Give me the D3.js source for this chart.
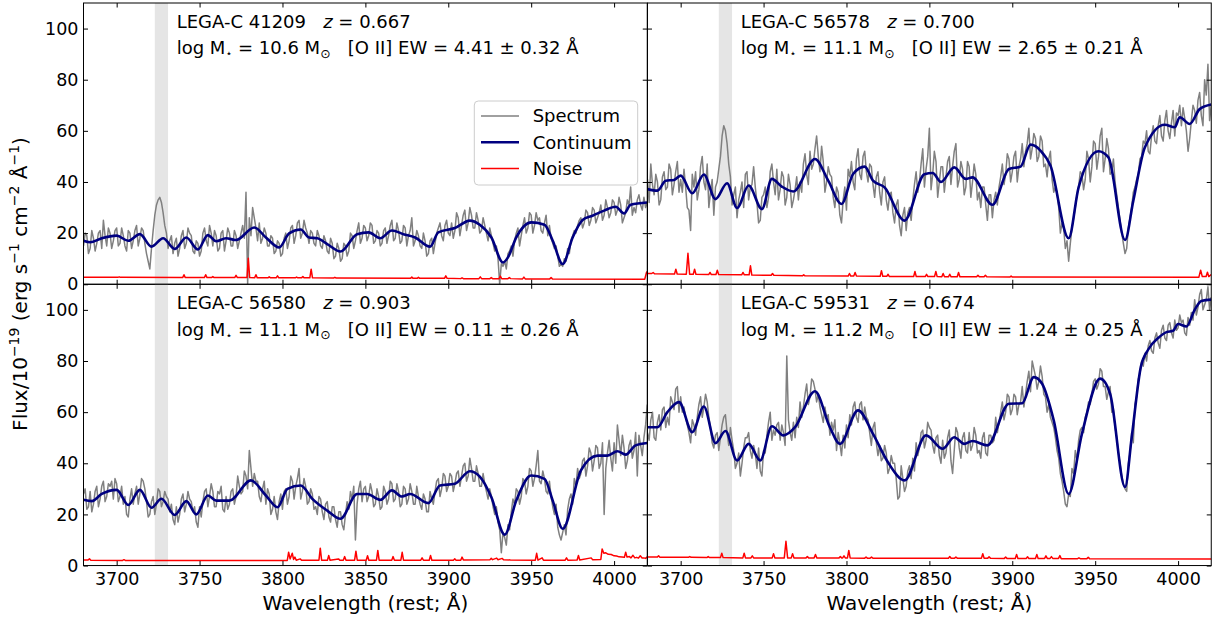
<!DOCTYPE html>
<html><head><meta charset="utf-8">
<script src="https://cdn.jsdelivr.net/npm/d3@7"></script>
<style>body{margin:0;background:#fff} svg text{font-family:"DejaVu Sans",sans-serif}</style>
</head><body><svg id="c" width="1220" height="619"></svg>
<script>
// ---------- data ----------
const waveStart = 3680, waveStep = 1;
const xTicks = [3700, 3750, 3800, 3850, 3900, 3950, 4000];
const yTicks = [0, 20, 40, 60, 80, 100];
const objIds = ["41209", "56578", "56580", "59531"];
const redshifts = ["0.667", "0.700", "0.903", "0.674"];
const logMass = ["10.6", "11.1", "11.1", "11.2"];
const oiiEW = ["4.41 ± 0.32", "2.65 ± 0.21", "0.11 ± 0.26", "1.24 ± 0.25"];
const oiiBand = [3723, 3731];

const spec41209 = [
15,20,19,12,14,21,18,13,16,20,21,14,25,19,15,22,20,14,17,21,
22,15,16,22,19,15,13,21,20,14,17,21,23,15,18,22,21,16,12,9,
6,14,21,27,31,33,34,32,28,23,20,14,17,19,12,16,18,11,14,19,
21,14,16,22,20,19,13,12,17,16,11,13,20,22,17,15,23,20,15,21,
19,13,14,20,21,13,17,22,20,15,15,21,19,14,17,20,23,18,36,0,
26,19,30,26,22,17,24,16,18,22,20,15,15,19,18,12,13,17,16,11,
12,18,20,14,17,22,23,16,19,24,25,18,20,25,22,20,16,21,20,16,
15,21,19,15,14,19,17,13,12,18,16,10,11,16,14,9,10,16,15,11,
13,20,19,14,17,21,24,16,18,23,22,17,19,24,23,16,17,21,20,15,
16,21,22,16,19,23,25,17,18,24,21,16,17,23,22,15,19,21,26,15,
17,21,19,15,14,20,17,11,12,17,18,12,16,20,22,24,19,17,23,25,
20,19,24,18,21,28,26,19,23,27,29,21,24,30,27,22,22,28,25,20,
21,26,23,20,17,22,19,16,13,15,10,0,8,7,9,6,12,13,15,11,
17,20,22,15,19,23,26,20,22,28,27,20,23,28,25,26,21,20,24,27,
19,23,18,16,14,15,11,7,8,7,10,9,14,12,17,19,21,20,23,25,
26,22,24,29,28,23,25,30,29,24,26,28,31,25,27,33,30,26,28,33,
32,27,29,34,31,24,26,28,33,31,38,27,30,28,33,35,31,29,34,30,
32];
const spec56578 = [
41,32,47,39,35,43,40,31,33,42,44,37,38,47,45,35,39,44,48,36,
41,36,45,38,30,29,21,43,38,44,33,37,46,50,40,37,47,30,36,41,
27,38,40,45,50,58,62,60,55,47,42,31,35,38,26,33,36,40,30,43,
44,33,38,39,46,38,32,24,25,34,35,38,30,34,44,47,40,35,45,33,
37,44,42,31,34,43,39,30,33,37,42,33,40,36,47,51,43,39,52,45,
47,53,58,50,44,54,48,36,40,46,43,42,34,30,38,36,27,24,33,38,
29,45,42,48,40,37,49,53,43,41,50,52,44,40,47,46,39,34,42,44,
36,31,40,42,33,29,35,36,28,24,31,33,23,19,27,30,21,28,30,25,
33,39,44,36,40,47,53,38,45,50,61,37,43,52,48,34,40,46,46,36,
42,48,50,39,46,52,55,38,41,48,45,35,38,48,46,34,40,47,43,33,
36,30,38,38,31,25,35,35,26,33,36,31,38,42,47,39,43,51,49,40,
44,50,52,40,46,49,55,46,52,55,61,49,53,59,57,48,50,58,56,46,
47,42,49,52,41,36,38,36,30,20,24,22,14,17,9,16,22,26,30,35,
38,44,43,37,41,52,49,40,46,56,55,45,50,58,61,44,49,57,53,43,
44,49,40,35,30,25,20,16,12,14,22,26,30,36,38,41,43,49,50,56,
55,60,52,51,58,62,56,55,62,66,58,56,64,68,60,57,63,68,58,67,
66,70,62,69,65,60,52,57,64,70,68,63,72,75,66,62,80,74,86,64,
70];
const spec56580 = [
28,30,22,23,29,21,24,29,31,23,26,31,33,25,27,32,31,33,26,34,
32,25,27,31,24,27,20,19,26,30,24,28,31,24,28,34,33,30,25,19,
20,25,27,20,24,30,29,23,25,29,27,26,21,24,18,16,23,17,20,26,
28,21,24,29,26,25,21,23,17,15,23,19,25,29,30,23,27,32,29,23,
23,29,28,31,22,21,27,22,24,29,30,24,27,35,31,28,29,37,35,30,
45,38,31,36,33,33,27,25,30,33,24,30,28,20,22,27,21,18,25,28,
22,29,30,24,27,35,33,26,31,34,38,26,29,34,31,24,25,30,28,22,
23,20,27,26,21,18,24,25,19,17,23,23,18,15,21,21,16,14,20,25,
22,29,26,31,10,24,30,33,25,30,31,25,27,32,29,23,24,30,27,22,
23,31,29,24,26,33,32,25,26,32,29,23,24,31,30,24,26,32,29,24,
24,31,27,24,22,28,26,21,21,29,26,24,29,33,34,27,30,36,35,29,
31,36,35,29,32,36,37,31,35,39,40,33,35,42,38,33,33,39,36,31,
31,36,32,29,26,30,27,23,20,23,17,14,5,13,11,8,16,14,21,26,
24,30,29,24,27,34,33,28,31,38,37,31,34,39,45,33,32,37,34,29,
28,33,27,23,20,24,15,12,10,13,16,12,22,26,28,24,34,31,38,34,
36,41,42,35,39,46,44,37,41,47,46,38,40,48,20,38,44,49,42,37,
48,40,55,49,43,51,46,38,41,47,49,42,45,52,35,51,47,43,50,55,
63];
const spec59531 = [
52,49,57,60,50,49,56,59,53,61,62,54,58,55,66,64,61,69,70,60,
66,60,62,58,55,52,48,57,55,51,58,63,66,58,62,67,64,58,54,48,
46,51,52,45,50,55,58,59,52,47,54,49,45,38,40,44,35,40,46,50,
50,52,45,42,47,44,38,46,37,35,45,44,51,56,60,49,53,51,55,56,
49,55,52,47,82,57,52,49,56,50,58,54,64,58,62,67,71,63,66,73,
72,69,64,67,62,59,56,62,58,59,51,56,53,57,45,52,48,43,51,46,
55,50,59,55,62,64,58,56,63,64,57,62,58,57,52,47,54,56,48,43,
47,41,42,47,44,36,38,43,40,40,34,26,27,39,34,29,31,37,39,34,
42,37,48,43,46,52,53,46,49,56,54,53,47,44,50,51,43,40,49,42,
44,50,53,41,36,45,54,52,46,42,50,52,45,44,52,45,47,54,51,44,
45,42,50,52,44,43,51,51,48,49,58,52,56,60,64,57,60,67,66,59,
61,67,66,59,63,64,70,62,67,72,76,68,80,77,74,69,72,78,74,67,
66,60,63,58,56,54,50,45,42,36,33,29,24,23,28,27,38,36,45,41,
49,53,54,52,58,60,64,63,67,72,73,69,71,77,76,70,70,65,68,70,
60,61,54,50,44,40,35,32,30,29,40,44,52,48,63,66,73,75,80,78,
83,80,86,88,84,83,89,91,87,85,92,94,89,88,94,95,91,89,96,92,
93,98,95,96,91,90,97,94,99,96,104,98,101,106,108,100,102,104,109,100,
105];

const cont41209 = [[3680,17.0],[3684,16.4],[3691,18.0],[3700,19.0],[3707,17.0],[3714,19.6],[3721,14.7],[3728,18.0],[3735,13.8],[3742,18.3],[3749,13.6],[3755,19.2],[3760,16.8],[3766,18.0],[3772,17.3],[3783,22.2],[3790,18.3],[3798,14.4],[3804,19.9],[3811,21.4],[3816,18.3],[3821,18.0],[3827,15.7],[3835,12.8],[3845,19.6],[3852,20.3],[3859,18.0],[3866,21.0],[3873,19.6],[3880,18.3],[3889,14.7],[3894,20.3],[3904,22.0],[3913,24.9],[3919,23.3],[3926,18.3],[3933,8.5],[3936,10.5],[3941,18.3],[3950,24.2],[3958,23.3],[3963,17.0],[3969,7.9],[3975,18.3],[3981,25.1],[3987,26.8],[3994,28.8],[4001,30.3],[4006,27.7],[4010,31.1],[4020,32.0]];
const cont56578 = [[3680,37.2],[3686,36.6],[3691,40.5],[3696,40.8],[3700,42.5],[3707,35.6],[3714,42.9],[3721,33.3],[3728,39.5],[3734,29.8],[3741,38.6],[3749,29.4],[3755,41.2],[3761,38.2],[3768,36.3],[3781,49.0],[3789,40.5],[3797,31.4],[3804,43.1],[3811,46.0],[3816,40.5],[3823,37.9],[3835,24.9],[3847,43.0],[3852,43.5],[3857,40.0],[3865,45.7],[3872,41.2],[3876,41.8],[3888,31.1],[3898,45.1],[3905,46.0],[3911,54.6],[3917,52.3],[3923,46.4],[3934,18.0],[3940,37.9],[3952,52.0],[3958,49.6],[3968,17.3],[3973,32.7],[3980,53.6],[3992,62.4],[3998,61.4],[4001,65.3],[4007,62.7],[4013,68.5],[4020,70.3]];
const cont56580 = [[3680,25.7],[3685,25.2],[3691,28.0],[3700,29.6],[3707,23.7],[3714,29.6],[3721,22.6],[3727,26.1],[3735,19.8],[3742,25.2],[3748,20.0],[3755,27.4],[3760,25.4],[3768,25.4],[3781,33.3],[3790,27.4],[3797,22.8],[3803,30.0],[3811,31.3],[3818,26.1],[3827,21.5],[3835,18.3],[3845,28.0],[3851,28.0],[3859,25.7],[3866,29.4],[3872,27.0],[3877,28.0],[3888,24.4],[3895,31.3],[3904,32.0],[3913,36.9],[3919,34.8],[3926,26.7],[3934,12.1],[3941,25.4],[3950,35.2],[3958,33.9],[3963,25.4],[3969,14.4],[3980,37.2],[3990,43.0],[3996,43.0],[4002,44.7],[4007,43.4],[4013,47.0],[4020,47.9]];
const cont59531 = [[3680,54.1],[3686,54.1],[3692,60.0],[3699,63.9],[3707,52.2],[3714,62.2],[3721,47.9],[3727,52.6],[3734,41.1],[3741,47.6],[3748,41.1],[3755,54.5],[3762,50.9],[3769,54.1],[3781,68.2],[3790,54.1],[3796,47.6],[3807,60.7],[3816,51.5],[3825,40.4],[3835,33.3],[3848,50.9],[3858,45.7],[3865,50.2],[3871,47.6],[3876,48.7],[3885,47.0],[3898,63.3],[3906,63.5],[3913,73.7],[3918,71.1],[3925,56.8],[3934,28.0],[3942,51.5],[3953,73.1],[3959,67.2],[3968,30.7],[3972,50.0],[3977.5,77.6],[3982,84.5],[3988,89.0],[3993,91.3],[3997,91.8],[4000,94.5],[4005,93.5],[4010,100.0],[4014,103.5],[4020,104.0]];

const noise41209 = [[3680,2.7],[3700.7,2.7],[3701.5,2.9],[3702.3,2.7],[3739.8,2.6],[3740.6,3.7],[3741.4,2.6],[3752.9,2.6],[3753.7,3.7],[3754.5,2.6],[3757.2,2.6],[3758,3.0],[3758.8,2.6],[3771.2,2.6],[3772,3.5],[3772.8,2.6],[3778.6,2.6],[3779.4,10.2],[3780.2,2.6],[3783.2,2.5],[3784,3.7],[3784.8,2.5],[3791.2,2.5],[3792,2.9],[3792.8,2.5],[3796.2,2.5],[3797,3.3],[3797.8,2.5],[3807.7,2.5],[3808.5,2.8],[3809.3,2.5],[3811.5,2.5],[3812.3,3.0],[3813.1,2.5],[3816.5,2.5],[3817.3,5.9],[3818.1,2.5],[3830.8,2.4],[3831.6,2.7],[3832.4,2.4],[3877.2,2.3],[3878,2.8],[3878.8,2.3],[3881.2,2.3],[3882,2.7],[3882.8,2.3],[3897.7,2.3],[3898.5,3.3],[3899.3,2.3],[3907.5,2.2],[3908.3,2.5],[3909.1,2.2],[3918.5,2.2],[3919.3,2.9],[3920.1,2.2],[3925.1,2.2],[3925.9,2.6],[3926.7,2.2],[3930.6,2.2],[3931.4,3.2],[3932.2,2.2],[3936,2.2],[3936.8,2.6],[3937.6,2.2],[3944.8,2.1],[3945.6,2.8],[3946.4,2.1],[3961.2,2.1],[3962,2.6],[3962.8,2.1],[4018.5,2.0],[4019.5,4.5],[4020,5.0]];
const noise56578 = [[3680,4.2],[3682.6,4.2],[3683.4,4.6],[3684.2,4.1],[3696.3,4.0],[3697.1,5.9],[3697.9,4.0],[3703.4,3.9],[3704.4,12.1],[3705.4,3.9],[3707.6,3.9],[3708.4,5.9],[3709.2,3.9],[3716.9,3.8],[3717.7,4.6],[3718.5,3.8],[3721.3,3.8],[3722.1,5.5],[3722.9,3.8],[3736.8,3.7],[3737.6,4.6],[3738.4,3.7],[3741.3,3.7],[3742.1,7.2],[3742.9,3.6],[3754.6,3.5],[3755.4,4.2],[3756.2,3.5],[3773.4,3.3],[3774.2,3.7],[3775,3.3],[3801,3.2],[3801.8,4.2],[3802.6,3.2],[3804.4,3.2],[3805.2,4.6],[3806,3.2],[3820.3,3.1],[3821.1,5.3],[3821.9,3.1],[3824.3,3.1],[3825.1,3.9],[3825.9,3.0],[3840.5,3.0],[3841.3,5.0],[3842.1,3.0],[3847.5,3.0],[3848.3,3.9],[3849.1,3.0],[3853.1,3.0],[3853.9,5.0],[3854.7,3.0],[3857.5,2.9],[3858.3,4.2],[3859.1,2.9],[3861.5,2.9],[3862.3,3.9],[3863.1,2.9],[3866.8,2.9],[3867.6,4.6],[3868.4,2.9],[3878.5,2.9],[3879.3,3.5],[3880.1,2.9],[3883,2.9],[3883.8,3.5],[3884.6,2.9],[3898.5,2.8],[3899.3,3.2],[3900.1,2.8],[4012.5,2.7],[4013.6,5.5],[4014.6,3.0],[4016.9,3.0],[4017.7,4.7],[4018.5,3.0],[4020,3.8]];
const noise56580 = [[3680,2.2],[3682.8,2.2],[3683.6,2.6],[3684.4,2.1],[3703.6,2.0],[3704.4,2.3],[3705.2,2.0],[3802.9,2.0],[3803.7,5.2],[3804.6,2.6],[3805.9,4.8],[3806.7,2.4],[3807.5,3.3],[3808.3,2.1],[3810.7,2.6],[3811.5,2.1],[3822,2.1],[3822.8,6.8],[3823.6,2.1],[3827.1,2.1],[3827.9,3.9],[3828.7,2.1],[3833.8,2.6],[3834.6,2.1],[3836.7,2.1],[3837.5,3.5],[3838.3,2.1],[3843.5,2.1],[3844.3,5.6],[3845.1,2.1],[3850.5,2.1],[3851.3,3.8],[3852.1,2.1],[3856.7,2.1],[3857.5,5.9],[3858.3,2.1],[3865.9,2.1],[3866.7,3.5],[3867.5,2.1],[3871.4,2.1],[3872.2,5.2],[3873,2.1],[3883.4,2.1],[3884.2,3.0],[3885,2.1],[3888.5,2.1],[3889.3,3.9],[3890.1,2.1],[3903.1,2.1],[3903.9,2.6],[3904.7,2.1],[3907.5,2.1],[3908.3,3.3],[3909.1,2.2],[3925.1,2.3],[3925.9,2.8],[3926.7,2.3],[3929.2,2.9],[3930,2.3],[3932.5,2.8],[3933.3,2.3],[3937.5,2.2],[3952.5,2.1],[3953.3,4.8],[3954.1,2.1],[3956.6,3.0],[3957.4,2.1],[3970.5,2.1],[3971.3,3.0],[3972.1,2.1],[3977.7,2.2],[3978.5,3.9],[3979.3,2.2],[3986.2,3.0],[3987,2.3],[3992,2.4],[3992.8,6.5],[3993.8,4.8],[3995,5.0],[3996.5,4.4],[3998.3,4.3],[4000,3.8],[4001.5,3.7],[4003,3.4],[4004.8,3.3],[4006.2,3.2],[4007,5.2],[4007.8,3.3],[4009.2,3.5],[4010.2,3.0],[4011.4,4.0],[4012.5,3.0],[4013.6,3.2],[4014.7,2.9],[4015.8,3.8],[4016.9,3.0],[4018,3.0],[4019,2.8],[4020,3.4]];
const noise59531 = [[3680,3.3],[3685.9,3.3],[3686.7,3.8],[3687.5,3.2],[3704.7,3.2],[3705.5,3.5],[3706.3,3.2],[3715.8,3.1],[3716.6,3.5],[3717.4,3.1],[3724,3.1],[3724.8,4.8],[3725.6,3.1],[3737.5,3.0],[3738.3,4.8],[3739.1,3.0],[3742.4,3.0],[3743.2,3.8],[3744,3.0],[3755.2,3.0],[3756,4.6],[3756.8,3.0],[3762.5,3.0],[3763.5,9.5],[3764.5,3.0],[3766.7,3.0],[3767.5,4.6],[3768.3,3.0],[3775.6,3.0],[3776.4,3.5],[3777.2,3.0],[3780.5,3.0],[3781.3,4.3],[3782.1,3.0],[3795.5,3.0],[3796.3,3.5],[3797.1,3.0],[3797.7,3.0],[3798.5,3.8],[3799.3,3.0],[3800.6,3.0],[3801.4,5.9],[3802.2,3.0],[3811,2.9],[3811.8,3.3],[3812.6,2.9],[3814.3,2.9],[3815.1,3.3],[3815.9,2.9],[3861.5,2.9],[3862.3,3.5],[3863.1,2.9],[3865.2,2.9],[3866,3.3],[3866.8,2.9],[3881.4,2.9],[3882.2,4.6],[3883,2.9],[3885.2,2.9],[3886,3.4],[3886.8,2.9],[3895.2,2.8],[3896,3.3],[3896.8,2.8],[3901.8,2.8],[3902.6,4.3],[3903.4,2.8],[3908.4,2.8],[3909.2,3.4],[3910,2.8],[3914,2.8],[3914.8,4.3],[3915.6,2.8],[3919.5,2.8],[3920.3,3.8],[3921.1,2.8],[3922.8,2.8],[3923.6,3.5],[3924.4,2.8],[3927.9,2.8],[3928.7,3.9],[3929.5,2.7],[3939.4,2.7],[3940.2,3.0],[3941,2.7],[3945,2.7],[3945.8,3.2],[3946.6,2.7],[4020,2.6]];

const legendLabels = ["Spectrum", "Continuum", "Noise"];

// ---------- drawing ----------
const svg = d3.select("#c");
const FONT = "DejaVu Sans";
const TICKFONT = 17.5;
const PL = [83.5, 647.5], PT = [3, 284.3], PW = 563.75, PH = 281.25;
const xDomain = [3680, 4020], yDomain = [0, 110];
const colors = {spec: "#808080", cont: "#000080", noise: "#ff0000", band: "#e5e5e5"};
const specs = [spec41209, spec56578, spec56580, spec59531];
const conts = [cont41209, cont56578, cont56580, cont59531];
const noises = [noise41209, noise56578, noise56580, noise59531];

function styleAxis(g, size) {
  g.select(".domain").remove();
  g.attr("font-family", FONT).attr("font-size", size);
  g.selectAll(".tick line").attr("stroke", "#000").attr("stroke-width", 1);
  g.selectAll(".tick text").attr("fill", "#000");
}

specs.forEach((spec, i) => {
  const col = i % 2, row = Math.floor(i / 2);
  const x0 = PL[col], y0 = PT[row];
  const x = d3.scaleLinear().domain(xDomain).range([x0, x0 + PW]);
  const y = d3.scaleLinear().domain(yDomain).range([y0 + PH, y0]);
  const g = svg.append("g");

  svg.append("clipPath").attr("id", "clip" + i).append("rect")
    .attr("x", x0).attr("y", y0).attr("width", PW).attr("height", PH);
  const plot = g.append("g").attr("clip-path", `url(#clip${i})`);

  plot.append("rect").attr("x", x(oiiBand[0])).attr("y", y0)
    .attr("width", x(oiiBand[1]) - x(oiiBand[0])).attr("height", PH)
    .attr("fill", colors.band);

  const lin = d3.line().x(d => x(d[0])).y(d => y(d[1]));
  const specData = spec.map((v, k) => [waveStart + k * waveStep, v]);
  plot.append("path").datum(specData).attr("d", lin)
    .attr("fill", "none").attr("stroke", colors.spec).attr("stroke-width", 1.5)
    .attr("stroke-linejoin", "round");
  plot.append("path").datum(conts[i])
    .attr("d", d3.line().x(d => x(d[0])).y(d => y(d[1])).curve(d3.curveMonotoneX))
    .attr("fill", "none").attr("stroke", colors.cont).attr("stroke-width", 2.6);
  plot.append("path").datum(noises[i]).attr("d", lin)
    .attr("fill", "none").attr("stroke", colors.noise).attr("stroke-width", 1.5)
    .attr("stroke-linejoin", "round");

  // axes (ticks inward on all four sides)
  const bAx = d3.axisBottom(x).tickValues(xTicks).tickSize(-4.5).tickPadding(7.5).tickFormat(d3.format("d"));
  if (row === 0) bAx.tickFormat("");
  g.append("g").attr("transform", `translate(0,${y0 + PH})`).call(bAx).call(a => styleAxis(a, TICKFONT));
  g.append("g").attr("transform", `translate(0,${y0})`)
    .call(d3.axisTop(x).tickValues(xTicks).tickSize(-4.5).tickFormat("")).call(a => styleAxis(a, TICKFONT));
  const lAx = d3.axisLeft(y).tickValues(yTicks).tickSize(-4.5).tickPadding(5).tickFormat(d3.format("d"));
  if (col === 1) lAx.tickFormat("");
  g.append("g").attr("transform", `translate(${x0},0)`).call(lAx).call(a => styleAxis(a, TICKFONT));
  g.append("g").attr("transform", `translate(${x0 + PW},0)`)
    .call(d3.axisRight(y).tickValues(yTicks).tickSize(-4.5).tickFormat("")).call(a => styleAxis(a, TICKFONT));

  g.append("rect").attr("x", x0).attr("y", y0).attr("width", PW).attr("height", PH)
    .attr("fill", "none").attr("stroke", "#000").attr("stroke-width", 1);

  // annotation
  const tx = x0 + 93.2;
  const t1 = g.append("text").attr("x", tx).attr("y", y0 + 24.7).attr("font-size", 18).attr("fill", "#000");
  t1.append("tspan").text("LEGA-C " + objIds[i] + "\u00A0\u00A0\u00A0");
  t1.append("tspan").attr("font-style", "italic").text("z");
  t1.append("tspan").text(" = " + redshifts[i]);
  const t2 = g.append("text").attr("x", tx).attr("y", y0 + 51.3).attr("font-size", 18).attr("fill", "#000");
  t2.append("tspan").text("log M");
  t2.append("tspan").attr("font-size", 11).attr("dy", 3).text("\u22C6");
  t2.append("tspan").attr("dy", -3).text(" = " + logMass[i] + " M");
  t2.append("tspan").attr("font-size", 12.5).attr("dy", 3.5).text("\u2299");
  t2.append("tspan").attr("dy", -3.5).text("\u00A0\u00A0\u00A0[O II] EW = " + oiiEW[i] + " Å");

  if (row === 1) {
    g.append("text").attr("x", x0 + PW / 2).attr("y", 610).attr("text-anchor", "middle")
      .attr("font-size", 20).attr("fill", "#000").text("Wavelength (rest; Å)");
  }

  if (i === 0) {
    const lg = g.append("g");
    lg.append("rect").attr("x", 474.3).attr("y", 101).attr("width", 163.4).attr("height", 84)
      .attr("rx", 4).attr("fill", "#fff").attr("fill-opacity", 0.8)
      .attr("stroke", "#cccccc").attr("stroke-width", 1);
    const lc = [colors.spec, colors.cont, colors.noise], lw = [1.5, 2.6, 1.5];
    legendLabels.forEach((lab, k) => {
      const yy = 116 + k * 26.3;
      lg.append("line").attr("x1", 481).attr("x2", 519).attr("y1", yy).attr("y2", yy)
        .attr("stroke", lc[k]).attr("stroke-width", lw[k]);
      lg.append("text").attr("x", 532.7).attr("y", yy).attr("dy", "0.36em")
        .attr("font-size", 18).attr("fill", "#000").text(lab);
    });
  }
});

// y-axis label
const yl = svg.append("text").attr("transform", "translate(27,284) rotate(-90)")
  .attr("text-anchor", "middle").attr("font-size", 20).attr("fill", "#000");
const parts = [["Flux/10", 0], ["\u221219", 1], [" (erg s", 0], ["\u22121", 1], [" cm", 0], ["\u22122", 1], [" Å", 0], ["\u22121", 1], [")", 0]];
let prevSup = 0;
parts.forEach(([t, sup]) => {
  const ts = yl.append("tspan").text(t);
  if (sup) ts.attr("font-size", 14).attr("dy", prevSup ? 0 : -8);
  else ts.attr("dy", prevSup ? 8 : 0);
  prevSup = sup;
});
</script></body></html>
